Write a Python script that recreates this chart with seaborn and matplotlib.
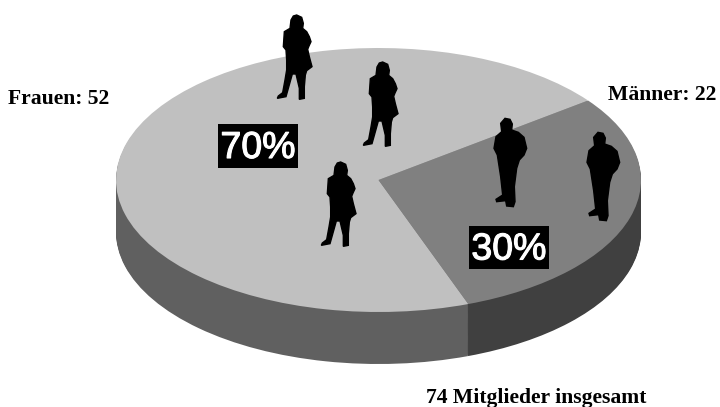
import matplotlib
matplotlib.use("Agg")
import matplotlib.patheffects as pe
import matplotlib.pyplot as plt
import numpy as np
import seaborn as sns
from matplotlib.patches import Rectangle

# Data
groups = ["Männer", "Frauen"]
members = [22, 52]
total_label = "74 Mitglieder insgesamt"

sns.set_theme(style="white")

# top surface and rim colours (Männer, Frauen)
top_colors = sns.color_palette(["#808080", "#c0c0c0"])
rim_colors = sns.color_palette(["#404040", "#606060"])

fig = plt.figure(figsize=(7.2, 4.07), dpi=100, facecolor="white")

# pie axes, squashed to an ellipse: 1 unit = 262.5 px across, 132 px down
ax = fig.add_axes([0, 0, 1, 1])
start = -70
depth = 52 / 132
for off in np.linspace(depth, 0.01, 54):
    ax.pie(members, colors=rim_colors, startangle=start, center=(0, -off), radius=1, frame=True,
           wedgeprops={"linewidth": 0})
ax.pie(members, colors=top_colors, startangle=start, center=(0, 0), radius=1, frame=True,
       wedgeprops={"linewidth": 0})
ax.set_aspect("auto")
ax.set_xlim(-378.5 / 262.5, (720 - 378.5) / 262.5)
ax.set_ylim((180 - 407) / 132, 180 / 132)
ax.axis("off")

# overlay in image pixels for people and labels
over = fig.add_axes([0, 0, 1, 1])
over.set_xlim(0, 720)
over.set_ylim(407, 0)
over.axis("off")
over.patch.set_alpha(0)

# silhouettes, traced at 3x
woman = np.array([(110, 45), (125, 52), (130, 70), (128, 85), (140, 95), (148, 110), (153, 125), (147, 138),
                  (143, 148), (148, 170), (156, 200), (140, 212), (136, 225), (133, 260), (133, 295), (118, 298),
                  (118, 265), (108, 222), (97, 222), (85, 265), (78, 290), (52, 295), (55, 288), (68, 278),
                  (75, 240), (80, 210), (80, 180), (78, 150), (70, 140), (73, 95), (90, 85), (93, 60), (100, 48)]) / 3
man = np.array([(135, 115), (150, 118), (157, 132), (155, 150), (175, 157), (192, 172), (200, 205), (192, 225),
                (178, 240), (170, 265), (163, 320), (165, 365), (160, 380), (140, 378), (137, 362), (110, 365),
                (108, 358), (128, 345), (122, 290), (112, 225), (102, 205), (108, 170), (125, 155), (122, 130)]) / 3

for dx, dy in [(260, 0), (346, 47), (304, 147)]:
    over.fill(woman[:, 0] + dx, woman[:, 1] + dy, color="black", lw=1)
for dx, dy in [(460, 80), (553, 94)]:
    over.fill(man[:, 0] + dx, man[:, 1] + dy, color="black", lw=1)

# percent boxes
shares = [round(v / sum(members) * 100) for v in members]
for (x0, y0, x1, y1), share in zip([(469, 226, 549, 269), (218, 124, 298, 168)], shares):
    over.add_patch(Rectangle((x0, y0), x1 - x0, y1 - y0, color="black", lw=0))
    over.text((x0 + x1) / 2, (y0 + y1) / 2 + 2, f"{share}%", color="white", fontsize=27,
              family="Liberation Sans", ha="center", va="center",
              path_effects=[pe.withStroke(linewidth=0.8, foreground="white")])

# labels
serif = {"family": "Liberation Serif", "weight": "bold", "fontsize": 15.6, "color": "black"}
over.text(8, 99, f"{groups[1]}: {members[1]}", ha="left", va="center", **serif)
over.text(608, 95, f"{groups[0]}: {members[0]}", ha="left", va="center", **serif)
over.text(426, 398, total_label, ha="left", va="center", **serif)

fig.savefig("out.png", dpi=100)
